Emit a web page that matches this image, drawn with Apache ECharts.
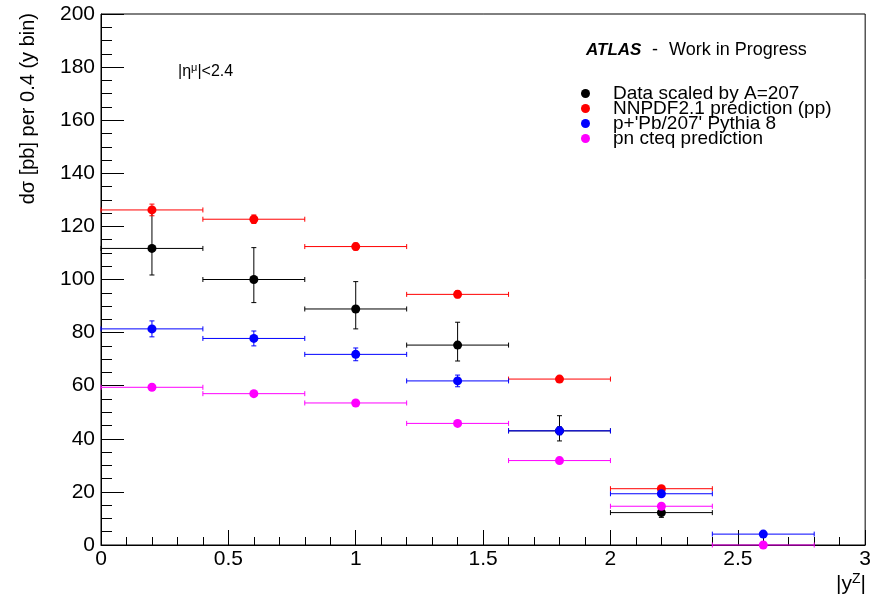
<!DOCTYPE html>
<html>
<head>
<meta charset="utf-8">
<script src="https://cdn.jsdelivr.net/npm/echarts@6/dist/echarts.min.js"></script>
<style>
  html, body { margin: 0; padding: 0; background: #fff; }
  #chart { width: 874px; height: 607px; }
</style>
</head>
<body>
<div id="chart"></div>
<script>
var dom = document.getElementById("chart");
var myChart = echarts.init(dom);
var font = 'Liberation Sans, Arial, Helvetica, sans-serif';

// |y^Z| bins (width 0.4)
var binCenter = [0.2, 0.6, 1.0, 1.4, 1.8, 2.2, 2.6];
var binHalfWidth = 0.2;

var seriesNames = ['Data scaled by A=207', 'NNPDF2.1 prediction (pp)', "p+'Pb/207' Pythia 8", 'pn cteq prediction'];
var seriesColors = ['#000000', '#ff0000', '#0000ff', '#ff00ff'];

var dataVal     = [111.7, 100.0, 88.9, 75.3, 43.0, 12.2, null];
var dataErrLow  = [10.0, 8.7, 7.5, 6.0, 3.8, 1.8, 0];
var dataErrHigh = [13.5, 12.0, 10.3, 8.6, 5.7, 1.4, 0];

var nnpdfVal = [126.2, 122.7, 112.4, 94.4, 62.5, 21.2, null];
var nnpdfErr = [2.2, 1.6, 1.3, 1.3, 0.5, 0.5, 0];

var pythiaVal = [81.4, 77.8, 71.8, 61.8, 43.0, 19.3, 4.1];
var pythiaErr = [3.0, 2.8, 2.4, 2.2, 1.5, 0.7, 0.4];

var cteqVal = [59.4, 57.0, 53.5, 45.8, 31.8, 14.6, 0.0];
var cteqErr = [0.5, 0.5, 0.5, 0.5, 0.5, 0.4, 0.1];

function rows(vals, lo, hi) {
    var out = [];
    vals.forEach(function(v, i) {
        if (v === null) return;
        out.push([binCenter[i], v, lo[i], hi[i]]);
    });
    return out;
}

var allRows = [
    rows(dataVal, dataErrLow, dataErrHigh),
    rows(nnpdfVal, nnpdfErr, nnpdfErr),
    rows(pythiaVal, pythiaErr, pythiaErr),
    rows(cteqVal, cteqErr, cteqErr)
];

function errRender(color) {
    return function(params, api) {
        var x = api.value(0), y = api.value(1), lo = api.value(2), hi = api.value(3);
        var pL = api.coord([x - binHalfWidth, y]);
        var pR = api.coord([x + binHalfWidth, y]);
        var pLo = api.coord([x, y - lo]);
        var pHi = api.coord([x, y + hi]);
        var c = 2.5;
        var st = { stroke: color, lineWidth: 1 };
        var kids = [
            { type: 'line', shape: { x1: pL[0], y1: pL[1], x2: pR[0], y2: pR[1] }, style: st },
            { type: 'line', shape: { x1: pL[0], y1: pL[1] - c, x2: pL[0], y2: pL[1] + c }, style: st },
            { type: 'line', shape: { x1: pR[0], y1: pR[1] - c, x2: pR[0], y2: pR[1] + c }, style: st }
        ];
        if (pLo[1] - pHi[1] > 1) {
            kids.push({ type: 'line', shape: { x1: pLo[0], y1: pLo[1], x2: pHi[0], y2: pHi[1] }, style: st });
            kids.push({ type: 'line', shape: { x1: pLo[0] - c, y1: pLo[1], x2: pLo[0] + c, y2: pLo[1] }, style: st });
            kids.push({ type: 'line', shape: { x1: pHi[0] - c, y1: pHi[1], x2: pHi[0] + c, y2: pHi[1] }, style: st });
        }
        return { type: 'group', children: kids };
    };
}

var series = [];
allRows.forEach(function(d, k) {
    series.push({
        name: seriesNames[k],
        type: 'custom',
        renderItem: errRender(seriesColors[k]),
        data: d,
        clip: false,
        silent: true
    });
    series.push({
        name: seriesNames[k],
        type: 'scatter',
        symbol: 'circle',
        symbolSize: 9,
        itemStyle: { color: seriesColors[k], opacity: 1 },
        data: d.map(function(r) { return [r[0], r[1]]; }),
        clip: false,
        silent: true
    });
});

option = {
    animation: false,
    backgroundColor: '#fff',
    grid: {
        left: 101, right: 8, top: 14, bottom: 62,
        show: true, borderColor: '#000', borderWidth: 1
    },
    legend: {
        orient: 'vertical',
        left: 581,
        top: 84,
        itemGap: -4,
        itemWidth: 9,
        itemHeight: 9,
        icon: 'circle',
        selectedMode: false,
        padding: 0,
        textStyle: {
            fontFamily: font,
            fontSize: 19,
            color: '#000',
            lineHeight: 19,
            padding: [0, 0, 0, 18]
        },
        data: seriesNames.map(function(n, i) {
            return { name: n, itemStyle: { color: seriesColors[i] } };
        })
    },
    xAxis: {
        type: 'value',
        min: 0, max: 3, interval: 0.5,
        axisLine: { show: true, onZero: false, lineStyle: { color: '#000', width: 1 } },
        axisTick: { show: true, inside: true, length: 15, lineStyle: { color: '#000' } },
        minorTick: { show: true, splitNumber: 5, length: 8, lineStyle: { color: '#000' } },
        splitLine: { show: false },
        axisLabel: {
            margin: 4, fontFamily: font, fontSize: 21, color: '#000',
            formatter: function(v) { return String(v); }
        }
    },
    yAxis: {
        type: 'value',
        min: 0, max: 200, interval: 20,
        axisLine: { show: true, onZero: false, lineStyle: { color: '#000', width: 1 } },
        axisTick: { show: true, inside: true, length: 23, lineStyle: { color: '#000' } },
        minorTick: { show: true, splitNumber: 4, length: 11, lineStyle: { color: '#000' } },
        splitLine: { show: false },
        axisLabel: { margin: 6, fontFamily: font, fontSize: 21, color: '#000' }
    },
    graphic: [
        {
            type: 'text', x: 28, y: 13, rotation: Math.PI / 2,
            style: {
                text: 'd\u03c3 [pb] per 0.4 (y bin)',
                fontFamily: font, fontSize: 20, fill: '#000',
                align: 'right', verticalAlign: 'middle'
            }
        },
        {
            type: 'text', x: 866, y: 584,
            style: {
                text: '|y{s|Z}|',
                fontFamily: font, fontSize: 21, fill: '#000',
                align: 'right', verticalAlign: 'middle',
                rich: { s: { fontFamily: font, fontSize: 14, fill: '#000', verticalAlign: 'top', padding: [0, 0, 10, 0] } }
            }
        },
        {
            type: 'text', x: 178, y: 72,
            style: {
                text: '|\u03b7{s|\u03bc}|<2.4',
                fontFamily: font, fontSize: 16, fill: '#000',
                align: 'left', verticalAlign: 'middle',
                rich: { s: { fontFamily: font, fontSize: 11, fill: '#000', verticalAlign: 'top', padding: [0, 0, 8, 0] } }
            }
        },
        {
            type: 'text', x: 586, y: 50,
            style: {
                text: 'ATLAS',
                fontFamily: font, fontSize: 17, fontWeight: 'bold', fontStyle: 'italic', fill: '#000',
                align: 'left', verticalAlign: 'middle'
            }
        },
        {
            type: 'text', x: 652, y: 50,
            style: {
                text: '-',
                fontFamily: font, fontSize: 18, fill: '#000',
                align: 'left', verticalAlign: 'middle'
            }
        },
        {
            type: 'text', x: 669, y: 50,
            style: {
                text: 'Work in Progress',
                fontFamily: font, fontSize: 18, fill: '#000',
                align: 'left', verticalAlign: 'middle'
            }
        }
    ],
    series: series
};

if (option && typeof option === "object") {
    myChart.setOption(option, true);
}
</script>
</body>
</html>
